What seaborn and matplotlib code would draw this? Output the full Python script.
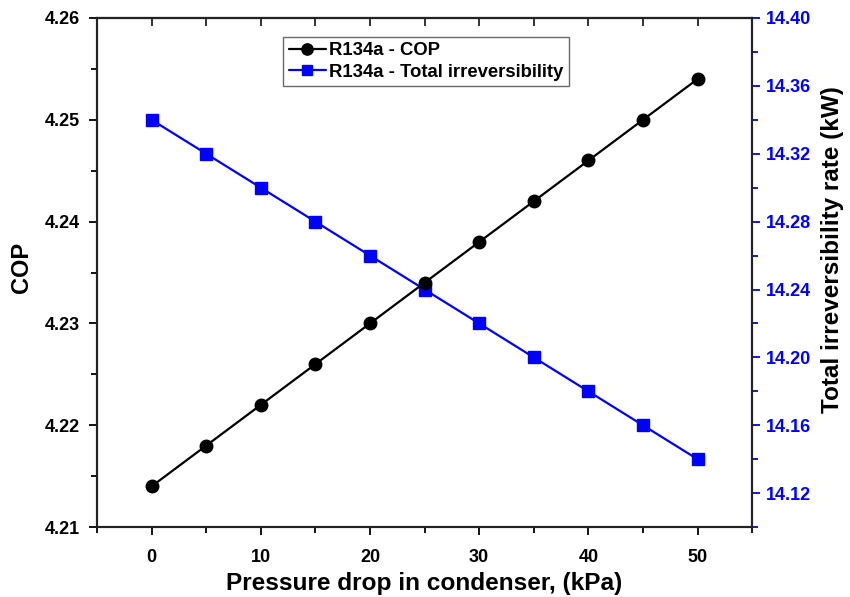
import matplotlib
matplotlib.use("Agg")
import matplotlib.pyplot as plt
import seaborn as sns
import pandas as pd
from matplotlib.ticker import MultipleLocator, FormatStrFormatter

pressure_drop = [0, 5, 10, 15, 20, 25, 30, 35, 40, 45, 50]
cop = [4.214, 4.218, 4.222, 4.226, 4.230, 4.234, 4.238, 4.242, 4.246, 4.250, 4.254]
irreversibility = [14.34, 14.32, 14.30, 14.28, 14.26, 14.24, 14.22, 14.20, 14.18, 14.16, 14.14]

sns.set_style("white")
plt.rcParams['font.family'] = ['Liberation Sans', 'DejaVu Sans']
plt.rcParams['font.weight'] = 'bold'
plt.rcParams['text.color'] = 'black'
plt.rcParams['axes.labelcolor'] = 'black'
plt.rcParams['xtick.color'] = 'black'
plt.rcParams['ytick.color'] = 'black'

df = pd.DataFrame({"x": pressure_drop, "cop": cop, "irr": irreversibility})

fig = plt.figure(figsize=(8.5, 5.97), dpi=100)
ax = fig.add_axes([0.114, 0.117, 0.771, 0.853])
ax2 = ax.twinx()

sns.lineplot(data=df, x="x", y="cop", ax=ax, color="black", marker="o",
             markersize=9, linewidth=1.6, markeredgecolor="black", markeredgewidth=1,
             label="R134a - COP", legend=False)
sns.lineplot(data=df, x="x", y="irr", ax=ax2, color="blue", marker="s",
             markersize=8.5, linewidth=1.6, markeredgecolor="blue", markeredgewidth=1,
             label="R134a - Total irreversibility", legend=False)

ax.set_xlim(-5, 55)
ax.set_ylim(4.21, 4.26)
ax2.set_ylim(14.10, 14.40)

ax.xaxis.set_major_locator(MultipleLocator(10))
ax.xaxis.set_minor_locator(MultipleLocator(5))
ax.yaxis.set_major_locator(MultipleLocator(0.01))
ax.yaxis.set_minor_locator(MultipleLocator(0.005))
ax.yaxis.set_major_formatter(FormatStrFormatter('%.2f'))
ax2.set_yticks([14.12, 14.16, 14.20, 14.24, 14.28, 14.32, 14.36, 14.40])
ax2.set_yticks([14.10, 14.14, 14.18, 14.22, 14.26, 14.30, 14.34, 14.38], minor=True)
ax2.yaxis.set_major_formatter(FormatStrFormatter('%.2f'))

for a in (ax, ax2):
    for s in a.spines.values():
        s.set_linewidth(1.5)
        s.set_color("#222222")
ax2.spines['right'].set_color("blue")

ax.tick_params(axis='x', which='major', direction='out', length=6, width=1.3,
               labelsize=13, bottom=True, top=False, pad=10)
ax.tick_params(axis='x', which='minor', direction='out', length=4, width=1.3, bottom=True, top=False)
ax.tick_params(axis='y', which='major', direction='out', length=6, width=1.3,
               labelsize=13, left=True, pad=6)
ax.tick_params(axis='y', which='minor', direction='out', length=4, width=1.3, left=True)
ax2.tick_params(axis='y', which='major', direction='out', length=6, width=1.3,
                labelsize=13, colors='blue', right=True, pad=4)
ax2.tick_params(axis='y', which='minor', direction='out', length=4, width=1.3,
                colors='blue', right=True)

top = ax.secondary_xaxis('top')
top.xaxis.set_major_locator(MultipleLocator(5))
top.tick_params(axis='x', direction='in', length=6, width=1.3, labeltop=False, color='#222222')
top.spines['top'].set_linewidth(1.5)
top.spines['top'].set_color('#222222')

for lab in ax.get_xticklabels() + ax.get_yticklabels() + ax2.get_yticklabels():
    lab.set_fontweight('bold')

ax.set_xlabel("Pressure drop in condenser, (kPa)", fontsize=17.6, fontweight='bold', color='black')
ax.xaxis.set_label_coords(0.5, -0.088)
ax.set_ylabel("COP", fontsize=17, fontweight='bold', color='black')
ax.yaxis.set_label_coords(-0.098, 0.51)
ax2.set_ylabel("Total irreversibility rate (kW)", fontsize=17.5, fontweight='bold', color='black')
ax2.yaxis.set_label_coords(1.105, 0.546)

h1, l1 = ax.get_legend_handles_labels()
h2, l2 = ax2.get_legend_handles_labels()
leg = ax.legend(h1 + h2, l1 + l2, loc='upper left', bbox_to_anchor=(0.284, 0.963),
                prop={'weight': 'bold', 'size': 13.3}, frameon=True, fancybox=False,
                edgecolor='#444444', handlelength=2.0, handletextpad=0.2,
                borderpad=0.3, labelspacing=0.25, markerscale=0.9, borderaxespad=0)
leg.get_frame().set_linewidth(1.0)
ax.set_zorder(ax2.get_zorder() + 1)
ax.patch.set_visible(False)

fig.savefig("out.png", dpi=100)
